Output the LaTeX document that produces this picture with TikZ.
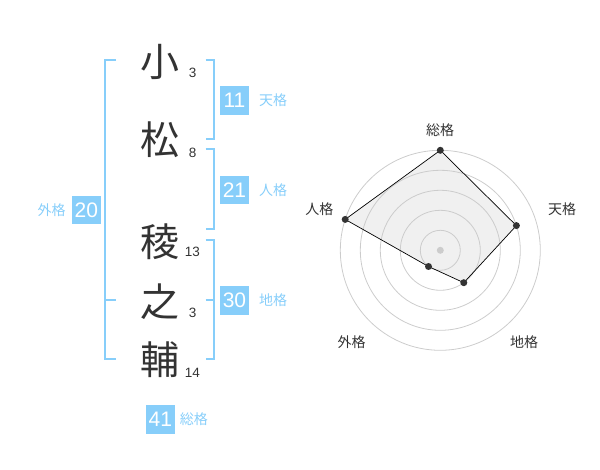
\documentclass[tikz,border=0pt]{standalone}
\usepackage{fontspec}
\usetikzlibrary{positioning}
\setmainfont{Liberation Sans}
\newfontfamily\cjk{Noto Sans CJK JP}
\definecolor{kakusky}{RGB}{135,206,250}
\definecolor{inkgray}{RGB}{51,51,51}
\definecolor{ringgray}{RGB}{204,204,204}
\definecolor{areagray}{RGB}{240,240,240}
\begin{document}
\begin{tikzpicture}[x=1pt,y=-1pt,
    kanji/.style={text=inkgray,font=\cjk\fontsize{39}{39}\selectfont},
    stroke/.style={text=inkgray,font=\fontsize{13.5}{13.5}\selectfont},
    kakubox/.style={fill=kakusky,text=white,minimum size=28.5pt,font=\fontsize{21}{21}\selectfont},
    kakulabel/.style={text=kakusky,font=\cjk\fontsize{14}{14}\selectfont},
    bracket/.style={draw=kakusky,line width=2pt},
    ring/.style={draw=ringgray,line width=0.8pt},
    axislabel/.style={text=inkgray,font=\cjk\fontsize{14}{14}\selectfont},
    dot/.style={circle,fill=inkgray,minimum size=7pt}]
    \tikzstyle{every node}+=[inner sep=0pt]
    \useasboundingbox (0,0) rectangle (600,470);
    % name
    \node [kanji] (ko) at (160,61.7) {小};
    \node [stroke] (ko-n) at (192.7,72.7) {3};
    \node [kanji] (matsu) at (160,140) {松};
    \node [stroke] (matsu-n) at (192.7,153.3) {8};
    \node [kanji] (ryo) at (160,241.7) {稜};
    \node [stroke] (ryo-n) at (192.3,252.3) {13};
    \node [kanji] (no) at (160,301.7) {之};
    \node [stroke] (no-n) at (192.7,313.3) {3};
    \node [kanji] (suke) at (160,360) {輔};
    \node [stroke] (suke-n) at (192.3,373.3) {14};
    % brackets
    \draw [bracket] (116,60) -- (105.3,60) -- (105.3,359.3) -- (116,359.3);
    \draw [bracket] (105.3,300) -- (116,300);
    \draw [bracket] (205.7,60) -- (214,60) -- (214,139.3) -- (205.7,139.3);
    \draw [bracket] (205.7,149.3) -- (214,149.3) -- (214,229.3) -- (205.7,229.3);
    \draw [bracket] (205.7,240) -- (214,240) -- (214,359.3) -- (205.7,359.3);
    \draw [bracket] (205.7,300) -- (214,300);
    % kaku
    \node [kakubox] (ten) at (234.5,100.3) {11};
    \node [kakulabel, right=10pt of ten] (ten-l) {天格};
    \node [kakubox] (jin) at (234.5,190) {21};
    \node [kakulabel, right=10pt of jin] (jin-l) {人格};
    \node [kakubox] (chi) at (234.5,300.3) {30};
    \node [kakulabel, right=10pt of chi] (chi-l) {地格};
    \node [kakubox] (gai) at (86.3,210) {20};
    \node [kakulabel, left=6pt of gai] (gai-l) {外格};
    \node [kakubox] (so) at (160.3,419.3) {41};
    \node [kakulabel, right=5pt of so] (so-l) {総格};
    % radar
    \coordinate (c) at (440.3,250.3);
    \coordinate (p-so) at (440.3,150.3);
    \coordinate (p-ten) at (516.4,225.6);
    \coordinate (p-chi) at (463.8,282.7);
    \coordinate (p-gai) at (428.5,266.5);
    \coordinate (p-jin) at (345.2,219.4);
    \fill [areagray] (p-so) -- (p-ten) -- (p-chi) -- (p-gai) -- (p-jin) -- cycle;
    \draw [ring] (c) circle (100);
    \draw [ring] (c) circle (80);
    \draw [ring] (c) circle (60);
    \draw [ring] (c) circle (40);
    \draw [ring] (c) circle (20);
    \fill [ringgray] (c) circle (3.5);
    \draw [black, line width=0.7pt] (p-so) -- (p-ten) -- (p-chi) -- (p-gai) -- (p-jin) -- cycle;
    \node [dot] (d-so) at (p-so) {};
    \node [dot] (d-ten) at (p-ten) {};
    \node [dot] (d-chi) at (p-chi) {};
    \node [dot] (d-gai) at (p-gai) {};
    \node [dot] (d-jin) at (p-jin) {};
    \node [axislabel] (a-so) at (440,130) {総格};
    \node [axislabel] (a-ten) at (562,209) {天格};
    \node [axislabel] (a-jin) at (319.3,209) {人格};
    \node [axislabel] (a-gai) at (351.7,342.3) {外格};
    \node [axislabel] (a-chi) at (524,342.3) {地格};
\end{tikzpicture}
\end{document}
